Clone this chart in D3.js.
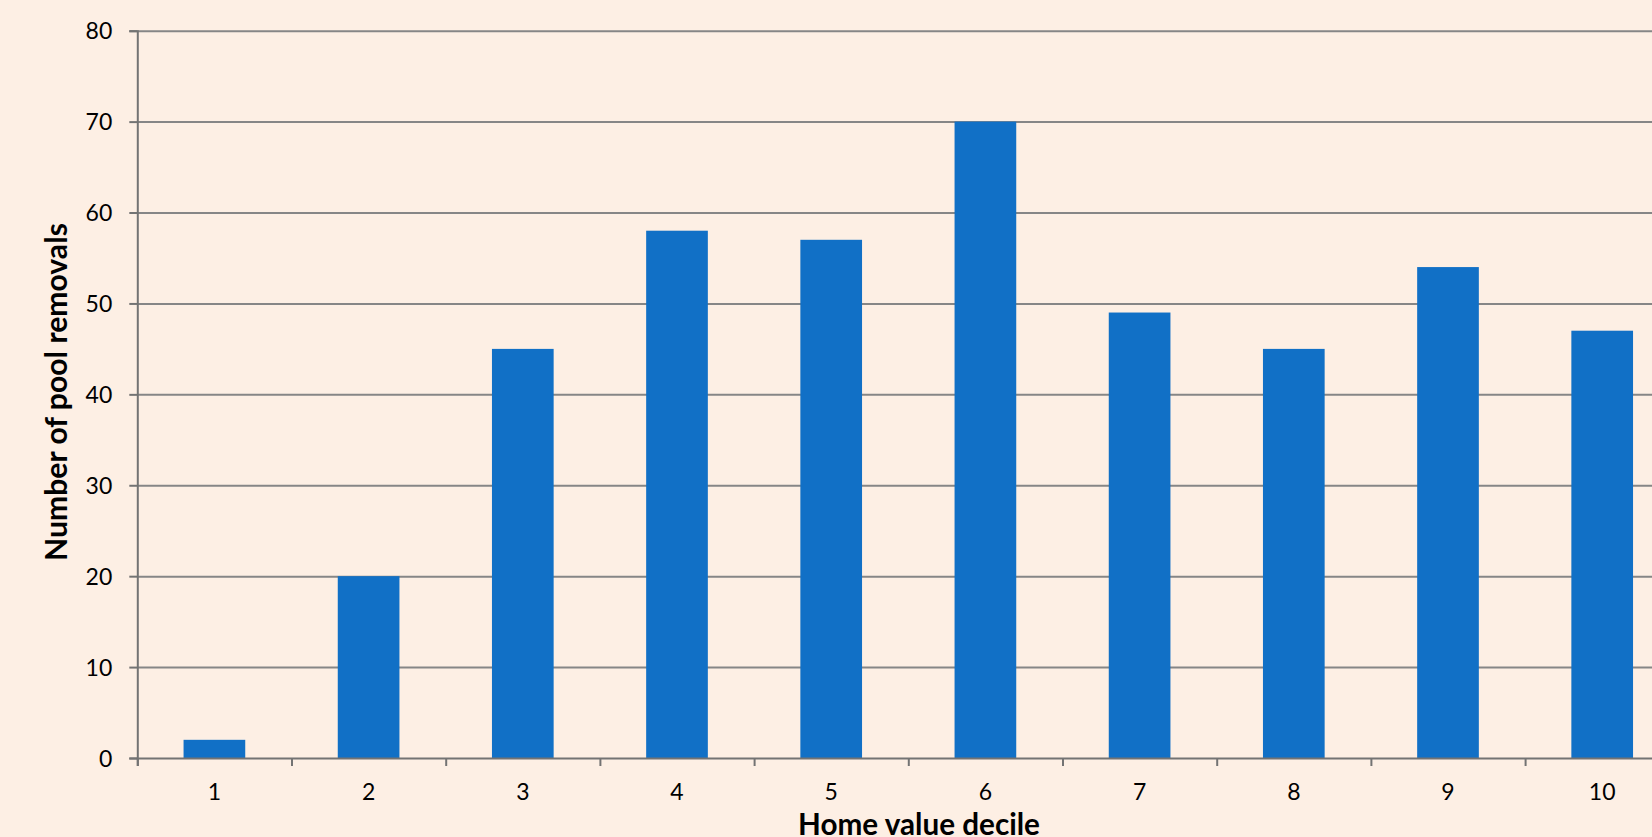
<!DOCTYPE html>
<html>
<head>
<meta charset="utf-8">
<script src="https://cdn.jsdelivr.net/npm/d3@7"></script>
<style>
  html, body { margin: 0; padding: 0; background: #FDEFE4; overflow: hidden; }
  svg { display: block; }
  text { font-family: Lato, "Open Sans", sans-serif; fill: #000; }
</style>
</head>
<body>
<svg id="chart" width="1652" height="837"></svg>
<script>
const categories = ["1", "2", "3", "4", "5", "6", "7", "8", "9", "10"];
const values = [2, 20, 45, 58, 57, 70, 49, 45, 54, 47];
const yTicks = [0, 10, 20, 30, 40, 50, 60, 70, 80];
const xTitle = "Home value decile";
const yTitle = "Number of pool removals";

const W = 1652, H = 837;
const plot = { left: 137.3, top: 30.7, right: 1679.3, bottom: 758 };
const bg = "#FDEFE4";
const barColor = "#1170C6";
const axisColor = "#737373";
const gridColor = "#868686";

const svg = d3.select("#chart");
svg.append("rect").attr("width", W).attr("height", H).attr("fill", bg);

const x = d3.scaleBand().domain(categories)
  .range([plot.left, plot.right]).paddingInner(0.6).paddingOuter(0.3);
const xEdge = d3.scaleLinear().domain([0, categories.length]).range([plot.left, plot.right]);
const y = d3.scaleLinear().domain([0, 80]).range([plot.bottom, plot.top]);

// gridlines
const grid = svg.append("g").attr("transform", `translate(${plot.left},0)`)
  .call(d3.axisLeft(y).tickValues(yTicks.slice(1)).tickSize(-(plot.right - plot.left)).tickFormat(""));
grid.select(".domain").remove();
grid.selectAll("line").attr("stroke", gridColor).attr("stroke-width", 2);

// bars
svg.append("g").selectAll("rect").data(values).join("rect")
  .attr("x", (d, i) => x(categories[i]))
  .attr("width", x.bandwidth())
  .attr("y", d => y(d))
  .attr("height", d => y(0) - y(d))
  .attr("fill", barColor);

// y axis
const yAxis = svg.append("g").attr("transform", `translate(${plot.left},0)`)
  .call(d3.axisLeft(y).tickValues(yTicks).tickSize(8).tickPadding(17));
yAxis.select(".domain").attr("stroke", axisColor).attr("stroke-width", 2);
yAxis.selectAll("line").attr("stroke", axisColor).attr("stroke-width", 2);
yAxis.selectAll("text").style("font-size", "23px").attr("dy", "0.36em");

// x axis ticks at band edges
const xTickAxis = svg.append("g").attr("transform", `translate(0,${plot.bottom})`)
  .call(d3.axisBottom(xEdge).tickValues(d3.range(0, categories.length + 1)).tickSize(8).tickFormat(""));
xTickAxis.select(".domain").attr("stroke", axisColor).attr("stroke-width", 2);
xTickAxis.selectAll("line").attr("stroke", axisColor).attr("stroke-width", 2);

// x labels
const xLab = svg.append("g").attr("transform", `translate(0,${plot.bottom})`)
  .call(d3.axisBottom(x).tickSize(0).tickPadding(26));
xLab.select(".domain").remove();
xLab.selectAll("text").style("font-size", "23px");

// axis titles, fitted to measured widths
function fit(sel, target) {
  const len = sel.node().getComputedTextLength();
  const fs = parseFloat(sel.style("font-size"));
  sel.style("font-size", (fs * target / len) + "px");
}
const xt = svg.append("text").attr("x", 919).attr("y", 835)
  .attr("text-anchor", "middle").style("font-weight", "bold").style("font-size", "28px").text(xTitle);
fit(xt, 242);

const yt = svg.append("text").attr("transform", "translate(67.3,392) rotate(-90)")
  .attr("text-anchor", "middle").style("font-weight", "bold").style("font-size", "28px").text(yTitle);
fit(yt, 338);
</script>
</body>
</html>
